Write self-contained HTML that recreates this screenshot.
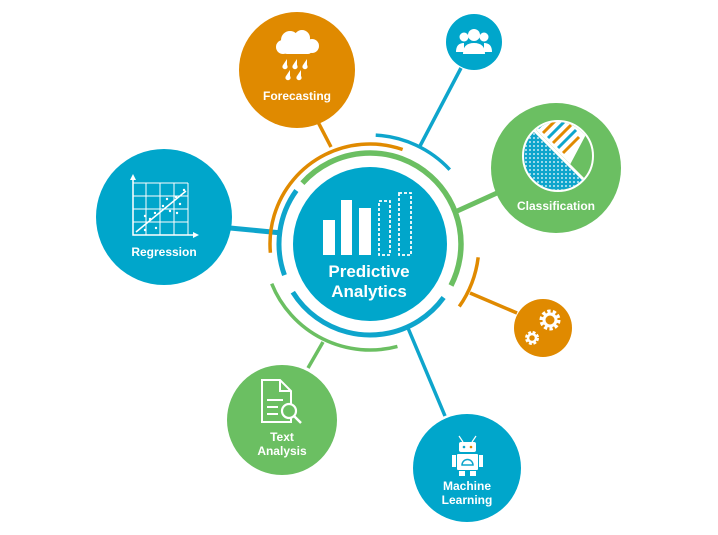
<!DOCTYPE html>
<html><head><meta charset="utf-8"><style>
html,body{margin:0;padding:0;background:#fff;width:718px;height:535px;overflow:hidden}
svg{display:block}
text{font-family:"Liberation Sans",Arial,sans-serif;fill:#fff;font-weight:bold;text-anchor:middle}
</style></head><body>
<svg width="718" height="535" viewBox="0 0 718 535">
<defs>
<pattern id="dots" width="4" height="4" patternUnits="userSpaceOnUse">
<rect width="4" height="4" fill="#0ea5cc"/><circle cx="2" cy="2" r="0.9" fill="#fff"/>
</pattern>
<clipPath id="pie"><circle cx="558" cy="156" r="34"/></clipPath>
</defs>
<!-- connectors -->
<g stroke-linecap="butt" fill="none">
<line x1="318" y1="122" x2="331" y2="147" stroke="#e08a00" stroke-width="3.5"/>
<line x1="461" y1="68" x2="420" y2="146" stroke="#0ea5cc" stroke-width="3.5"/>
<line x1="497" y1="193" x2="455" y2="212" stroke="#6bbf62" stroke-width="5"/>
<line x1="517" y1="313" x2="470" y2="293" stroke="#e08a00" stroke-width="3.5"/>
<line x1="230" y1="228" x2="282" y2="233" stroke="#0ea5cc" stroke-width="5"/>
<line x1="308" y1="368" x2="323" y2="342" stroke="#6bbf62" stroke-width="3.5"/>
<line x1="445" y1="416" x2="408" y2="328" stroke="#0ea5cc" stroke-width="3.5"/>
</g>
<!-- rings -->
<g fill="none">
<circle cx="370" cy="244" r="91" stroke="#6bbf62" stroke-width="5.5" stroke-dasharray="262.1 1000" transform="rotate(-138 370 244)"/>
<circle cx="370" cy="244" r="91" stroke="#0ea5cc" stroke-width="5" stroke-dasharray="88.9 1000" transform="rotate(160 370 244)"/>
<circle cx="370" cy="244" r="91" stroke="#0ea5cc" stroke-width="5" stroke-dasharray="177.9 1000" transform="rotate(36 370 244)"/>
<circle cx="370" cy="244" r="100" stroke="#e08a00" stroke-width="3.5" stroke-dasharray="199 1000" transform="rotate(175 370 244)"/>
<circle cx="370" cy="244" r="109" stroke="#0ea5cc" stroke-width="3.5" stroke-dasharray="83.7 1000" transform="rotate(-87 370 244)"/>
<circle cx="370" cy="244" r="106" stroke="#6bbf62" stroke-width="3.5" stroke-dasharray="153.5 1000" transform="rotate(75 370 244)"/>
<circle cx="370" cy="244" r="109" stroke="#e08a00" stroke-width="3.5" stroke-dasharray="53.3 1000" transform="rotate(7 370 244)"/>
</g>
<!-- center -->
<circle cx="370" cy="244" r="77" fill="#00a6cb"/>
<g fill="#fff">
<rect x="323" y="220" width="12" height="35"/>
<rect x="341" y="200" width="11" height="55"/>
<rect x="359" y="208" width="12" height="47"/>
</g>
<g fill="none" stroke="#fff" stroke-width="1.8" stroke-dasharray="3 2">
<rect x="379" y="201" width="11" height="54"/>
<rect x="399" y="193" width="12" height="62"/>
</g>
<text x="369" y="277" font-size="17">Predictive</text>
<text x="369" y="297" font-size="17">Analytics</text>

<!-- Forecasting -->
<circle cx="297" cy="70" r="58" fill="#e08a00"/>
<g fill="#fff">
<circle cx="290" cy="40" r="9"/><circle cx="302" cy="38" r="8"/><circle cx="312" cy="46" r="7"/><circle cx="283" cy="47" r="7"/>
<rect x="283" y="44" width="29" height="10" rx="4"/>
<path d="M287 59 l-4 6 a2.6 2.6 0 1 0 4 0z M297 59 l-4 6 a2.6 2.6 0 1 0 4 0z M307 59 l-4 6 a2.6 2.6 0 1 0 4 0z M290 70 l-4 6 a2.6 2.6 0 1 0 4 0z M301 70 l-4 6 a2.6 2.6 0 1 0 4 0z"/>
</g>
<text x="297" y="100" font-size="12">Forecasting</text>

<!-- people -->
<circle cx="474" cy="42" r="28" fill="#00a6cb"/>
<g fill="#fff">
<circle cx="474" cy="35" r="6"/><path d="M463 54 q0 -11 11 -11 q11 0 11 11z"/>
<circle cx="464" cy="37" r="4.5"/><path d="M456 52 q0 -9 8 -9 v9z"/>
<circle cx="484" cy="37" r="4.5"/><path d="M492 52 q0 -9 -8 -9 v9z"/>
</g>

<!-- Classification -->
<circle cx="556" cy="168" r="65" fill="#6bbf62"/>
<g clip-path="url(#pie)">
<rect x="520" y="118" width="80" height="80" fill="#6bbf62"/>
<path d="M530 128 L586 184 L520 200 L510 140 Z" fill="url(#dots)"/>
<path d="M532 124 L570 162 L588 128 L560 110 Z" fill="#fff"/>
<g stroke-width="3">
<path d="M538 128 l10 -10" stroke="#0ea5cc"/>
<path d="M543 133 l14 -14" stroke="#e08a00"/>
<path d="M548 138 l16 -16" stroke="#0ea5cc"/>
<path d="M553 143 l18 -18" stroke="#e08a00"/>
<path d="M558 148 l18 -18" stroke="#0ea5cc"/>
<path d="M563 153 l16 -16" stroke="#e08a00"/>
</g>
<path d="M532 124 L570 162 L588 128" fill="none" stroke="#fff" stroke-width="2.5"/>
</g>
<line x1="534" y1="130" x2="583" y2="179" stroke="#fff" stroke-width="3"/>
<circle cx="558" cy="156" r="35" fill="none" stroke="#fff" stroke-width="2"/>
<text x="556" y="210" font-size="12">Classification</text>

<!-- Regression -->
<circle cx="164" cy="217" r="68" fill="#00a6cb"/>
<g stroke="#fff" fill="none" stroke-width="1">
<path d="M133 183 H188 M133 196 H188 M133 209 H188 M133 222 H188 M146 183 V235 M160 183 V235 M174 183 V235 M188 183 V235"/>
<path d="M133 177 V235 H195" stroke-width="1.5"/>
<path d="M136 232 L186 191" stroke-width="1.5"/>
</g>
<path d="M130 180 l3 -6 l3 6z M193 232 l6 3 l-6 3z" fill="#fff"/>
<g fill="#fff"><circle cx="145" cy="216" r="1.2"/><circle cx="150" cy="219" r="1.2"/><circle cx="155" cy="213" r="1.2"/><circle cx="163" cy="206" r="1.2"/><circle cx="167" cy="199" r="1.2"/><circle cx="176" cy="197" r="1.2"/><circle cx="180" cy="204" r="1.2"/><circle cx="170" cy="211" r="1.2"/><circle cx="156" cy="228" r="1.2"/><circle cx="145" cy="230" r="1.2"/><circle cx="184" cy="190" r="1.2"/><circle cx="177" cy="213" r="1.2"/></g>
<text x="164" y="256" font-size="12">Regression</text>

<!-- gears -->
<circle cx="543" cy="328" r="29" fill="#e08a00"/>
<circle cx="550" cy="320" r="8" fill="none" stroke="#fff" stroke-width="5" stroke-dasharray="3 2"/>
<circle cx="550" cy="320" r="6" fill="none" stroke="#fff" stroke-width="3"/>
<circle cx="532" cy="338" r="5" fill="none" stroke="#fff" stroke-width="4" stroke-dasharray="2.5 1.5"/>
<circle cx="532" cy="338" r="4" fill="none" stroke="#fff" stroke-width="2.5"/>

<!-- Text Analysis -->
<circle cx="282" cy="420" r="55" fill="#6bbf62"/>
<path d="M262 380 H280 L291 391 V422 H262 Z M280 380 V391 H291" fill="none" stroke="#fff" stroke-width="2"/>
<path d="M267 400 H283 M267 407 H278 M267 414 H278" stroke="#fff" stroke-width="2"/>
<circle cx="289" cy="411" r="7" fill="#6bbf62" stroke="#fff" stroke-width="2.2"/>
<line x1="294" y1="416" x2="301" y2="423" stroke="#fff" stroke-width="2.5"/>
<text x="282" y="441" font-size="12">Text</text>
<text x="282" y="455" font-size="12">Analysis</text>

<!-- Machine Learning -->
<circle cx="467" cy="468" r="54" fill="#00a6cb"/>
<g fill="#fff">
<path d="M459 436 l4 6 M476 436 l-4 6" stroke="#fff" stroke-width="1.2"/>
<rect x="459" y="442" width="17" height="10" rx="2"/>
<rect x="457" y="454" width="21" height="16" rx="1"/>
<rect x="452" y="455" width="4" height="12"/><rect x="479" y="455" width="4" height="12"/>
<rect x="459" y="471" width="6" height="5"/><rect x="470" y="471" width="6" height="5"/>
</g>
<circle cx="464" cy="447" r="1.3" fill="#0ea5cc"/><circle cx="471" cy="447" r="1.3" fill="#e08a00"/>
<path d="M462 465 a5.5 5.5 0 0 1 11 0z" fill="none" stroke="#0ea5cc" stroke-width="1.5"/>
<text x="467" y="490" font-size="12">Machine</text>
<text x="467" y="504" font-size="12">Learning</text>
</svg>
</body></html>
